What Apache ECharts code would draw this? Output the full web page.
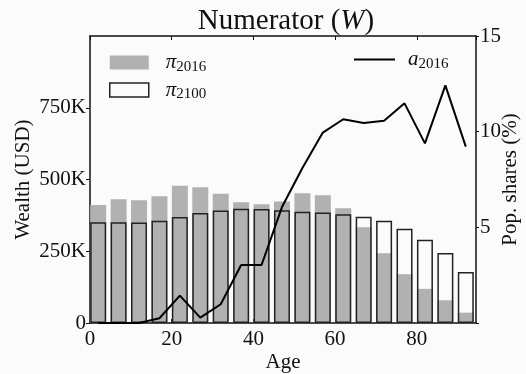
<!DOCTYPE html>
<html>
<head>
<meta charset="utf-8">
<script src="https://cdn.jsdelivr.net/npm/echarts@6/dist/echarts.min.js"></script>
<style>
html, body { margin: 0; padding: 0; background: #fbfbfb; }
#main { width: 526px; height: 374px; }
</style>
</head>
<body>
<div id="main"></div>
<script>
//年龄组（每组5岁）
var ages = [0, 5, 10, 15, 20, 25, 30, 35, 40, 45, 50, 55, 60, 65, 70, 75, 80, 85, 90];
//pi_2016 财富（美元）
var pi2016 = [411000, 431000, 428000, 442000, 478000, 473000, 450000, 421000, 414000, 423000,
	452000, 445000, 400000, 334000, 243000, 170000, 119000, 79000, 36000];
//pi_2100 财富（美元）
var pi2100 = [351000, 351000, 350000, 356000, 369000, 383000, 392000, 398000, 397000, 393000,
	388000, 385000, 379000, 370000, 356000, 328000, 290000, 244000, 178000];
//a_2016 人口比例（%）
var a2016 = [0, 0, 0, 0.25, 1.43, 0.28, 0.98, 3.03, 3.03, 6.06,
	8.1, 9.95, 10.65, 10.45, 10.57, 11.48, 9.39, 12.42, 9.22];
//坐标轴刻度
var xTicks = [0, 20, 40, 60, 80];
var wealthTicks = [0, 250000, 500000, 750000];
var shareTicks = [5, 10, 15];

var serif = 'Liberation Serif';

//柱子放在每组中间（组宽5，柱宽4）
var toPoints = function(arr) {
	var out = [];
	for (var i = 0; i < ages.length; i++) {
		out.push([ages[i] + 2, arr[i]]);
	}
	return out;
};

var subRich = {
	v: { fontFamily: serif, fontStyle: 'italic', fontSize: 21, color: '#111', padding: [0, 0, 0, 12] },
	s: { fontFamily: serif, fontSize: 15, color: '#111', padding: [9, 0, 0, 0] }
};
var subRich2 = {
	v: { fontFamily: serif, fontStyle: 'italic', fontSize: 21, color: '#111', padding: [0, 0, 0, 8] },
	s: { fontFamily: serif, fontSize: 15, color: '#111', padding: [9, 0, 0, 0] }
};

var frameLine = { onZero: false, lineStyle: { color: '#111', width: 1.5 } };
var nameFont = { fontFamily: serif, fontSize: 21, color: '#111' };

var myChart = echarts.init(document.getElementById('main'));

var option = {
	backgroundColor: '#fbfbfb',
	animation: false,
	title: {
		text: '{a|Numerator (}{b|W}{a|)}',
		left: 281,
		textAlign: 'center',
		top: 2,
		textStyle: {
			rich: {
				a: { fontFamily: serif, fontSize: 29, fontWeight: 'normal', color: '#111' },
				b: { fontFamily: serif, fontSize: 29, fontWeight: 'normal', fontStyle: 'italic', color: '#111' }
			}
		}
	},
	legend: [
		{
			orient: 'vertical',
			left: 104,
			top: 47,
			itemWidth: 39,
			itemHeight: 14,
			itemGap: 5,
			data: [
				{ name: 'pi2016', icon: 'rect' },
				{ name: 'pi2100', icon: 'rect', itemStyle: { color: '#fbfbfb', borderColor: '#222', borderWidth: 1.5 } }
			],
			formatter: function(name) {
				return name == 'pi2016' ? '{v|π}{s|2016}' : '{v|π}{s|2100}';
			},
			textStyle: { rich: subRich }
		},
		{
			left: 348,
			top: 44,
			itemWidth: 41,
			itemHeight: 14,
			data: [{ name: 'a2016', itemStyle: { opacity: 0 } }],
			formatter: function() {
				return '{v|a}{s|2016}';
			},
			textStyle: { rich: subRich2 }
		}
	],
	grid: {
		left: 90,
		right: 50,
		top: 36,
		bottom: 51,
		outerBoundsMode: 'none'
	},
	xAxis: [
		{
			type: 'value',
			min: 0,
			max: 94.5,
			interval: 20,
			name: 'Age',
			nameLocation: 'middle',
			nameGap: 29,
			nameMoveOverlap: false,
			nameTextStyle: nameFont,
			axisLine: frameLine,
			axisTick: { inside: true, length: 4, lineStyle: { color: '#111' } },
			axisLabel: {
				fontFamily: serif, fontSize: 21, color: '#111', margin: 6,
				showMaxLabel: false
			},
			splitLine: { show: false }
		},
		{
			type: 'value',
			position: 'top',
			min: 0,
			max: 94.5,
			interval: 20,
			axisLine: frameLine,
			axisTick: { inside: true, length: 4, lineStyle: { color: '#111' } },
			axisLabel: { show: false },
			splitLine: { show: false }
		}
	],
	yAxis: [
		{
			type: 'value',
			min: 0,
			max: 1000000,
			interval: 250000,
			name: 'Wealth (USD)',
			nameLocation: 'middle',
			nameGap: 56,
			nameMoveOverlap: false,
			nameTextStyle: nameFont,
			axisLine: { show: true, onZero: false, lineStyle: { color: '#111', width: 1.5 } },
			axisTick: {
				show: true, length: 4, lineStyle: { color: '#111' },
				customValues: wealthTicks
			},
			axisLabel: {
				fontFamily: serif, fontSize: 21, color: '#111', margin: 4,
				customValues: wealthTicks,
				formatter: function(v) {
					return v == 0 ? '0' : (v / 1000) + 'K';
				}
			},
			splitLine: { show: false }
		},
		{
			type: 'value',
			position: 'right',
			min: 0,
			max: 15,
			interval: 5,
			name: 'Pop. shares (%)',
			nameLocation: 'middle',
			nameGap: 24,
			nameRotate: 90,
			nameMoveOverlap: false,
			nameTextStyle: nameFont,
			axisLine: { show: true, onZero: false, lineStyle: { color: '#111', width: 1.5 } },
			axisTick: { show: true, length: 3, lineStyle: { color: '#111' } },
			axisLabel: {
				fontFamily: serif, fontSize: 21, color: '#111', margin: 4,
				formatter: function(v) {
					return shareTicks.indexOf(v) < 0 ? '' : String(v);
				}
			},
			splitLine: { show: false }
		}
	],
	series: [
		{
			name: 'pi2016',
			type: 'bar',
			barWidth: 16,
			barGap: '-100%',
			itemStyle: { color: '#b1b1b1' },
			data: toPoints(pi2016)
		},
		{
			name: 'pi2100',
			type: 'bar',
			barWidth: 16,
			barGap: '-100%',
			itemStyle: { color: 'rgba(0,0,0,0)', borderColor: '#222', borderWidth: 1.5 },
			data: toPoints(pi2100)
		},
		{
			name: 'a2016',
			type: 'line',
			yAxisIndex: 1,
			symbol: 'none',
			lineStyle: { color: '#000', width: 2 },
			itemStyle: { color: '#000' },
			data: toPoints(a2016)
		}
	]
};

myChart.setOption(option);
</script>
</body>
</html>
